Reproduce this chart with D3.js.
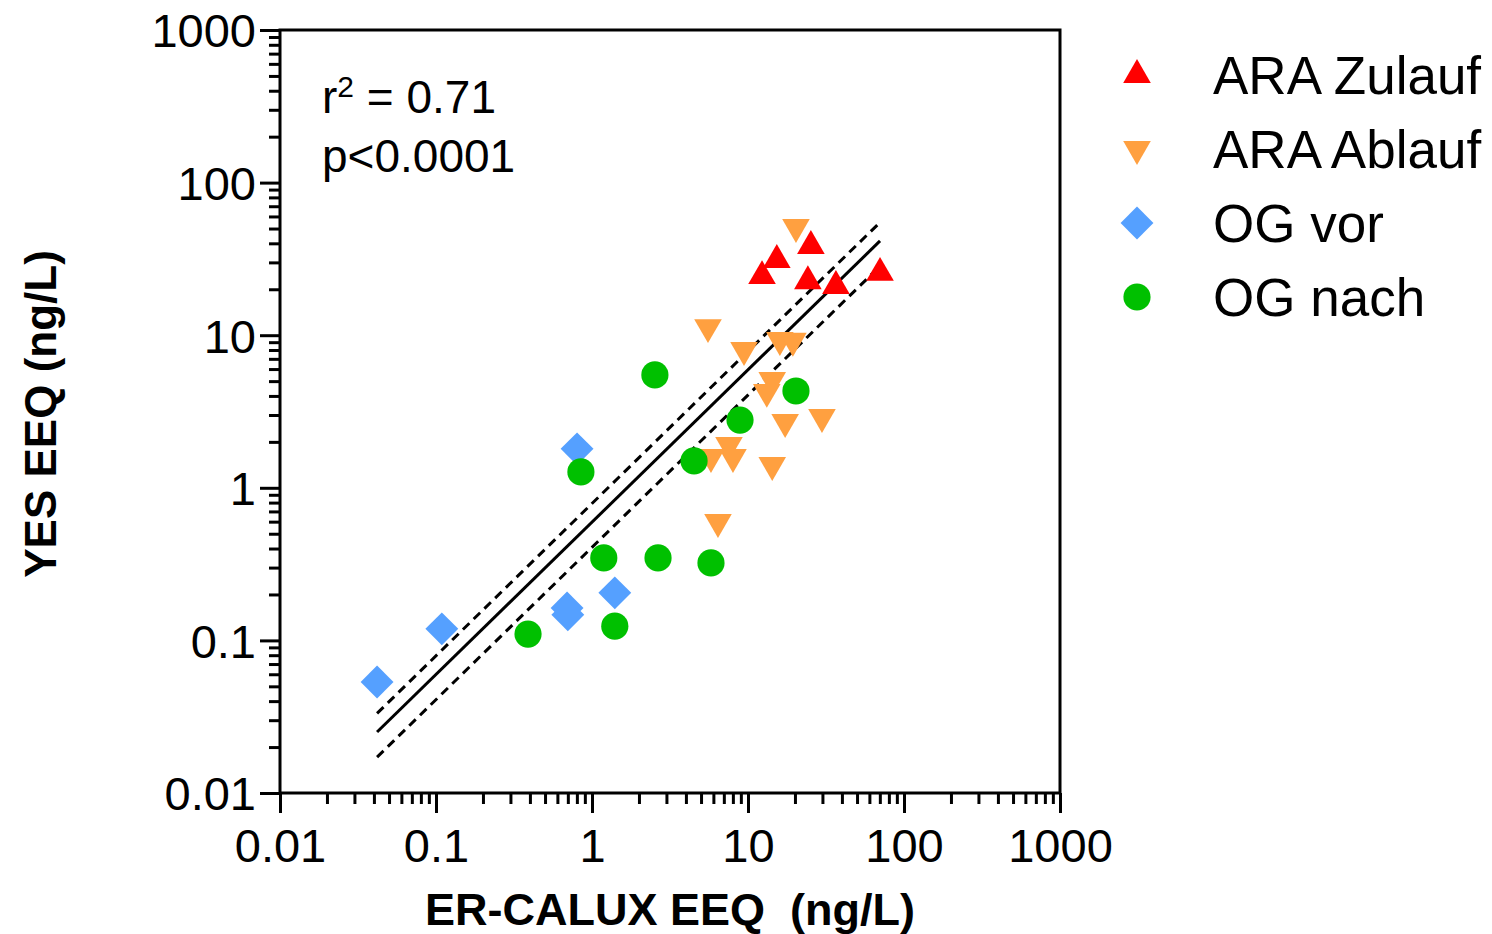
<!DOCTYPE html>
<html>
<head>
<meta charset="utf-8">
<script src="https://cdn.jsdelivr.net/npm/d3@7"></script>
<style>
  body { margin: 0; background: #fff; }
  svg text { font-family: Arial, 'Liberation Sans', sans-serif; fill: #000; }
</style>
</head>
<body>
<div id="chart"></div>
<script>
// データ ---------------------------------------------------------------------------------------
const seriesNames = ['ARA Zulauf', 'ARA Ablauf', 'OG vor', 'OG nach'];
const zulaufX = [12.3, 15.3, 25.3, 24.2, 36.6, 70.2];
const zulaufY = [24.4, 31.1, 38.4, 22.6, 21.0, 25.6];
const ablaufX = [20.3, 5.54, 9.43, 16.0, 19.4, 14.3, 13.2, 17.3, 29.8, 7.55, 8.01, 5.79, 14.3, 6.42];
const ablaufY = [51.2, 11.3, 8.0, 9.3, 9.2, 5.09, 4.25, 2.70, 2.91, 1.91, 1.59, 1.59, 1.41, 0.597];
const vorX = [0.802, 0.692, 0.70, 1.40, 0.109, 0.0419];
const vorY = [1.80, 0.163, 0.147, 0.205, 0.119, 0.0534];
const nachX = [2.53, 0.849, 4.51, 8.89, 20.3, 1.19, 2.65, 5.79, 0.389, 1.40];
const nachY = [5.49, 1.27, 1.50, 2.78, 4.31, 0.347, 0.347, 0.322, 0.110, 0.124];
// 回帰 (log10 y = intercept + slope * log10 x) と信頼帯のオフセット (log10単位)
const fitSlope = 0.998;
const fitIntercept = -0.225;
const bandUpper = 0.122;
const bandLower = -0.165;
const majorTicks = [0.01, 0.1, 1, 10, 100, 1000];
const tickLabels = ['0.01', '0.1', '1', '10', '100', '1000'];
const xTitle = 'ER-CALUX EEQ\u00a0\u00a0(ng/L)';
const yTitle = 'YES EEQ (ng/L)';
const rText = ['r', '2', ' = 0.71'];
const pText = 'p<0.0001';

// 系列の見た目 ---------------------------------------------------------------------------------
const series = [
  { name: seriesNames[0], xs: zulaufX, ys: zulaufY, color: '#ff0000', type: d3.symbolTriangle, size: 330, rot: 0 },
  { name: seriesNames[1], xs: ablaufX, ys: ablaufY, color: '#ffa040', type: d3.symbolTriangle, size: 330, rot: 180 },
  { name: seriesNames[2], xs: vorX, ys: vorY, color: '#55a0ff', type: d3.symbolSquare, size: 540, rot: 45 },
  { name: seriesNames[3], xs: nachX, ys: nachY, color: '#00c000', type: d3.symbolCircle, size: 580, rot: 0 }
];

// SVG領域 --------------------------------------------------------------------------------------
const width = 1492;
const height = 934;
const margin = { top: 30, right: 432, bottom: 141, left: 280 };
const svg = d3.select('#chart').append('svg')
  .attr('width', width)
  .attr('height', height);

const xScale = d3.scaleLog().domain([0.01, 1000]).range([margin.left, width - margin.right]);
const yScale = d3.scaleLog().domain([0.01, 1000]).range([height - margin.bottom, margin.top]);

const minorTicks = [];
majorTicks.slice(0, -1).forEach(m => {
  for (let k = 2; k <= 9; k++) minorTicks.push(m * k);
});
const fmt = d => tickLabels[majorTicks.indexOf(d)];

// 軸 -----------------------------------------------------------------------------------------
const xMajor = svg.append('g')
  .attr('transform', 'translate(0,' + (height - margin.bottom) + ')')
  .call(d3.axisBottom(xScale).tickValues(majorTicks).tickFormat(fmt).tickSize(20).tickPadding(16));
const xMinor = svg.append('g')
  .attr('transform', 'translate(0,' + (height - margin.bottom) + ')')
  .call(d3.axisBottom(xScale).tickValues(minorTicks).tickFormat('').tickSize(11));
const yMajor = svg.append('g')
  .attr('transform', 'translate(' + margin.left + ',0)')
  .call(d3.axisLeft(yScale).tickValues(majorTicks).tickFormat(fmt).tickSize(20).tickPadding(4));
const yMinor = svg.append('g')
  .attr('transform', 'translate(' + margin.left + ',0)')
  .call(d3.axisLeft(yScale).tickValues(minorTicks).tickFormat('').tickSize(11));
[xMajor, xMinor, yMajor, yMinor].forEach(g => {
  g.select('.domain').remove();
  g.selectAll('line').attr('stroke', '#000').attr('stroke-width', 3);
  g.selectAll('text').attr('font-size', '47px').attr('fill', '#000');
});
yMajor.selectAll('text').attr('dy', '0.36em');

// 枠 -----------------------------------------------------------------------------------------
svg.append('rect')
  .attr('x', margin.left)
  .attr('y', margin.top)
  .attr('width', width - margin.right - margin.left)
  .attr('height', height - margin.bottom - margin.top)
  .attr('fill', 'none')
  .attr('stroke', '#000')
  .attr('stroke-width', 3);

// 回帰直線と信頼帯 ----------------------------------------------------------------------------
const allX = [].concat(...series.map(s => s.xs));
const [xMin, xMax] = d3.extent(allX);
const fitLine = off => [xMin, xMax].map(v => [v, 10 ** (fitIntercept + fitSlope * Math.log10(v) + off)]);
const line = d3.line().x(d => xScale(d[0])).y(d => yScale(d[1]));
[[0, null], [bandUpper, '9,6'], [bandLower, '9,6']].forEach(([off, dash]) => {
  svg.append('path')
    .attr('d', line(fitLine(off)))
    .attr('fill', 'none')
    .attr('stroke', '#000')
    .attr('stroke-width', 3)
    .attr('stroke-dasharray', dash);
});

// 散布点 --------------------------------------------------------------------------------------
series.forEach(s => {
  svg.append('g').selectAll('path')
    .data(s.xs.map((v, i) => [v, s.ys[i]]))
    .enter()
    .append('path')
    .attr('d', d3.symbol().type(s.type).size(s.size))
    .attr('transform', d => 'translate(' + xScale(d[0]) + ',' + yScale(d[1]) + ') rotate(' + s.rot + ')')
    .attr('fill', s.color);
});

// 凡例 ---------------------------------------------------------------------------------------
const legend = svg.append('g').selectAll('g')
  .data(series)
  .enter()
  .append('g')
  .attr('transform', (d, i) => 'translate(1137,' + (75 + i * 74) + ')');
legend.append('path')
  .attr('d', d => d3.symbol().type(d.type).size(d.size)())
  .attr('transform', d => 'rotate(' + d.rot + ')')
  .attr('fill', d => d.color);
legend.append('text')
  .attr('x', 76)
  .attr('dy', '0.36em')
  .attr('font-size', '53px')
  .text(d => d.name);

// 統計テキスト -------------------------------------------------------------------------------
const rt = svg.append('text')
  .attr('x', 322)
  .attr('y', 113)
  .attr('font-size', '46px');
rt.append('tspan').text(rText[0]);
rt.append('tspan').attr('font-size', '30px').attr('dy', '-16').text(rText[1]);
rt.append('tspan').attr('dy', '16').text(rText[2]);
svg.append('text')
  .attr('x', 322)
  .attr('y', 172)
  .attr('font-size', '46px')
  .text(pText);

// 軸タイトル ---------------------------------------------------------------------------------
svg.append('text')
  .attr('x', (margin.left + width - margin.right) / 2)
  .attr('y', 925)
  .attr('text-anchor', 'middle')
  .attr('font-size', '45px')
  .attr('font-weight', 'bold')
  .text(xTitle);
svg.append('text')
  .attr('transform', 'translate(56,414) rotate(-90)')
  .attr('text-anchor', 'middle')
  .attr('font-size', '44px')
  .attr('font-weight', 'bold')
  .text(yTitle);
</script>
</body>
</html>
